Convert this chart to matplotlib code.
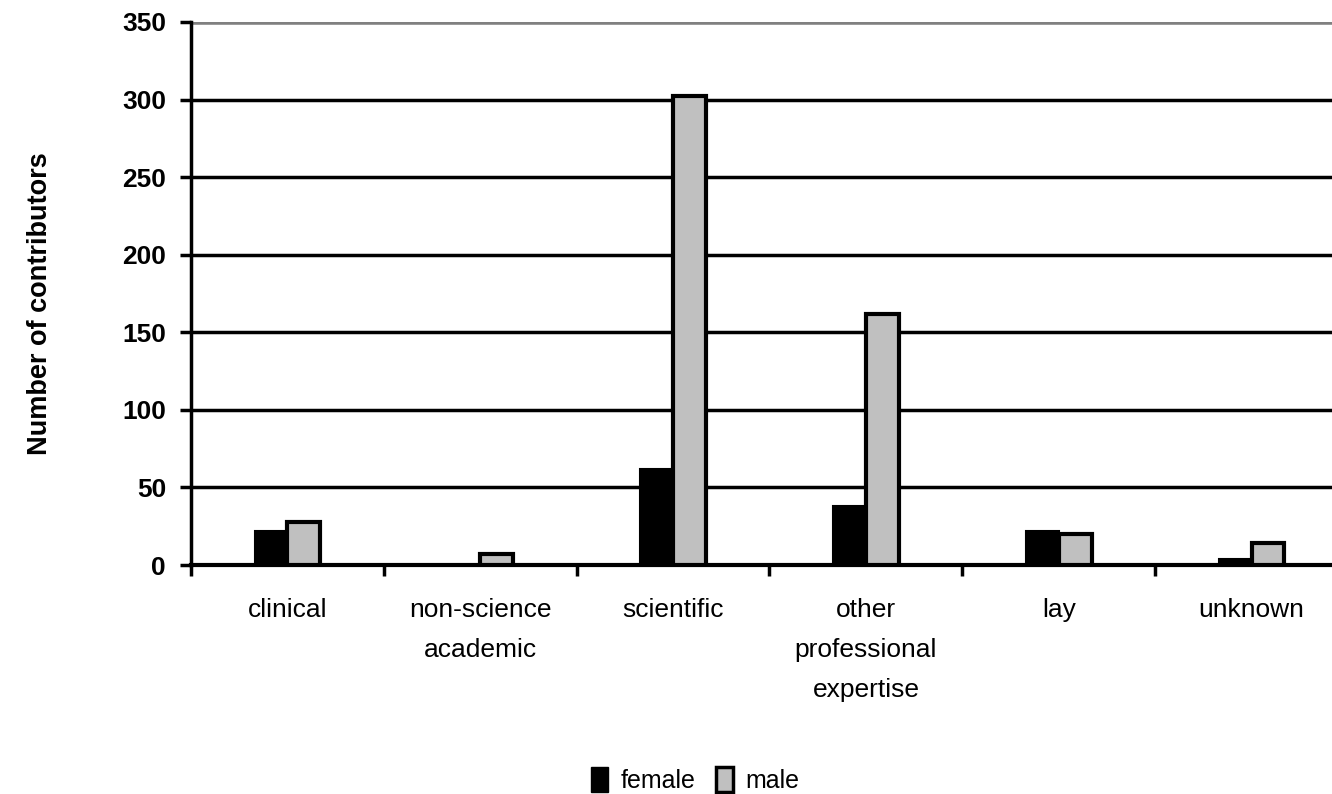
import numpy as np
import matplotlib.pyplot as plt
from matplotlib.patches import Patch

# Data
categories = ['clinical', 'non-science\nacademic', 'scientific',
              'other\nprofessional\nexpertise', 'lay', 'unknown']
female = [22, 0, 62, 38, 22, 4]
male = [28, 7, 302, 162, 20, 14]

plt.rcParams['font.family'] = ['Liberation Sans', 'DejaVu Sans']

fig = plt.figure(figsize=(13.32, 7.94), dpi=100)
ax = fig.add_axes([0.1434, 0.2884, 0.8686, 0.6839])

ind = np.arange(len(categories))
w = 0.17
ax.bar(ind - w / 2, female, w, color='black', edgecolor='black', linewidth=1.5, zorder=3)
ax.bar(ind + w / 2, male, w, color='#c0c0c0', edgecolor='black', linewidth=3, zorder=3)

ax.set_xlim(-0.5, len(categories) - 0.5)
ax.set_ylim(0, 350)
ax.set_yticks(np.arange(0, 351, 50))
ax.tick_params(axis='y', labelsize=19, width=2.5, length=8, pad=10)
for lab in ax.get_yticklabels():
    lab.set_fontweight('bold')

# category labels between boundary ticks
ax.set_xticks(np.arange(-0.5, len(categories), 1.0))
ax.set_xticklabels([])
ax.tick_params(axis='x', width=2.5, length=8, direction='out')
for i, c in enumerate(categories):
    ax.text(i, -21, c, ha='center', va='top', fontsize=19, linespacing=1.85)

# gridlines
for y in range(50, 301, 50):
    ax.axhline(y, color='black', linewidth=2.5, zorder=1)
ax.axhline(350, color='#808080', linewidth=4, zorder=1)

for s in ['top', 'right']:
    ax.spines[s].set_visible(False)
ax.spines['left'].set_linewidth(2.5)
ax.spines['bottom'].set_linewidth(3)

fig.text(0.03, 0.618, 'Number of contributors', rotation=90, ha='center', va='center',
         fontsize=19.5, fontweight='bold')

handles = [Patch(facecolor='black', edgecolor='black'),
           Patch(facecolor='#c0c0c0', edgecolor='black', linewidth=2.5)]
fig.legend(handles, ['female', 'male'], loc='center', bbox_to_anchor=(0.522, 0.018),
           ncol=2, frameon=False, fontsize=18, handlelength=0.7, handleheight=1.2,
           handletextpad=0.5, columnspacing=0.8)

fig.savefig('out.png', dpi=100)
